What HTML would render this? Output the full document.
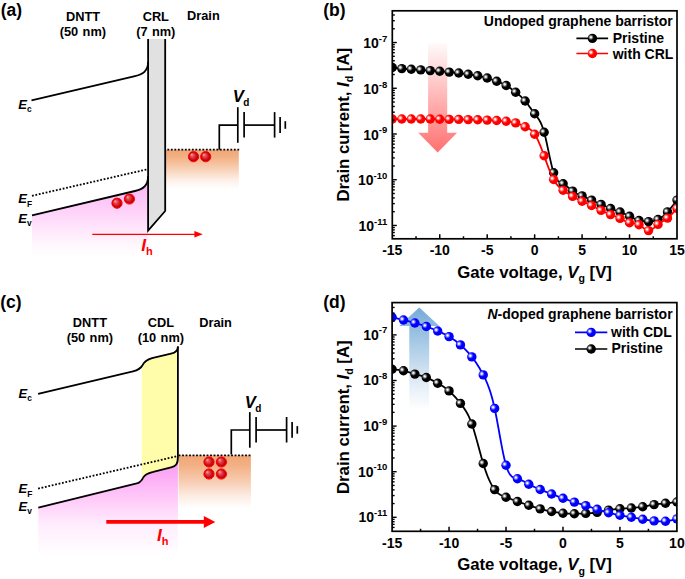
<!DOCTYPE html><html><head><meta charset="utf-8"><style>html,body{margin:0;padding:0;background:#fff;}svg{display:block;}text{font-family:"Liberation Sans", sans-serif;font-weight:bold;}</style></head><body>
<svg width="685" height="579" viewBox="0 0 685 579">
<defs>
<radialGradient id="hl" cx="0.5" cy="0.5" r="0.5"><stop offset="0" stop-color="#fff" stop-opacity="1"/><stop offset="0.25" stop-color="#fff" stop-opacity="0.9"/><stop offset="0.6" stop-color="#fff" stop-opacity="0.4"/><stop offset="1" stop-color="#fff" stop-opacity="0"/></radialGradient>
<radialGradient id="gball" cx="0.5" cy="0.5" r="0.5" fx="0.3" fy="0.28"><stop offset="0" stop-color="#f6b0b8"/><stop offset="0.3" stop-color="#e8505a"/><stop offset="0.7" stop-color="#d01018"/><stop offset="0.88" stop-color="#c00008"/><stop offset="1" stop-color="#ff0000"/></radialGradient>
<linearGradient id="gpinkA" gradientUnits="userSpaceOnUse" x1="0" y1="176" x2="0" y2="258"><stop offset="0" stop-color="rgb(251,174,245)"/><stop offset="0.476" stop-color="rgb(254,214,250)"/><stop offset="0.84" stop-color="rgb(255,248,254)"/><stop offset="1" stop-color="#ffffff"/></linearGradient>
<linearGradient id="gorgA" gradientUnits="userSpaceOnUse" x1="0" y1="150" x2="0" y2="189"><stop offset="0" stop-color="rgb(241,166,118)"/><stop offset="0.2" stop-color="rgb(243,178,135)"/><stop offset="0.5" stop-color="rgb(248,210,184)"/><stop offset="0.77" stop-color="rgb(253,240,232)"/><stop offset="1" stop-color="#ffffff"/></linearGradient>
<linearGradient id="garrR" x1="0" y1="0" x2="0" y2="1"><stop offset="0" stop-color="#ff0000" stop-opacity="0.02"/><stop offset="1" stop-color="#ff0000" stop-opacity="0.56"/></linearGradient>
<linearGradient id="garrB" x1="0" y1="0" x2="0" y2="1"><stop offset="0" stop-color="#6aa5d4"/><stop offset="1" stop-color="#6aa5d4" stop-opacity="0"/></linearGradient>
<clipPath id="clipB"><rect x="392.3" y="10.8" width="284.7" height="228.0"/></clipPath>
<clipPath id="clipD"><rect x="392.1" y="302.6" width="284.8" height="228.7"/></clipPath>
<linearGradient id="gpinkC" gradientUnits="userSpaceOnUse" x1="0" y1="458" x2="0" y2="556"><stop offset="0" stop-color="rgb(249,150,239)"/><stop offset="0.224" stop-color="rgb(253,177,246)"/><stop offset="0.48" stop-color="rgb(255,210,250)"/><stop offset="0.684" stop-color="rgb(255,237,253)"/><stop offset="1" stop-color="#ffffff"/></linearGradient><linearGradient id="gorgC" gradientUnits="userSpaceOnUse" x1="0" y1="455" x2="0" y2="508"><stop offset="0" stop-color="rgb(241,166,118)"/><stop offset="0.2" stop-color="rgb(243,176,132)"/><stop offset="0.5" stop-color="rgb(247,205,178)"/><stop offset="0.77" stop-color="rgb(252,236,226)"/><stop offset="1" stop-color="#ffffff"/></linearGradient><linearGradient id="garrBd" gradientUnits="userSpaceOnUse" x1="0" y1="307" x2="0" y2="410"><stop offset="0" stop-color="#6ea6d5" stop-opacity="0.95"/><stop offset="0.5" stop-color="#6ea6d5" stop-opacity="0.45"/><stop offset="0.78" stop-color="#6ea6d5" stop-opacity="0.17"/><stop offset="1" stop-color="#6ea6d5" stop-opacity="0"/></linearGradient></defs>
<text x="0.8" y="15.9" font-size="17.5">(a)</text>
<text x="83.0" y="20.8" font-size="12.8" text-anchor="middle">DNTT</text>
<text x="82.9" y="35.7" font-size="12.8" text-anchor="middle" word-spacing="0.8">(50 nm)</text>
<text x="155.8" y="20.8" font-size="12.8" text-anchor="middle">CRL</text>
<text x="155.8" y="35.7" font-size="12.8" text-anchor="middle" word-spacing="0.8">(7 nm)</text>
<text x="187.0" y="20.0" font-size="12.8">Drain</text>
<path d="M32,215.3 L135,191 C143,189 148.1,186 148.1,176 L148.1,260 L32,260 Z" fill="url(#gpinkA)"/>
<rect x="166" y="149.7" width="72.8" height="40" fill="url(#gorgA)"/>
<path d="M148.1,39.1 L165.2,39.1 L165.2,211 L148.1,230.5 Z" fill="#e1e1e1"/>
<path d="M148.1,39.1 L148.1,230.5 L165.2,211 L165.2,39.1" fill="none" stroke="#000" stroke-width="1.8" stroke-linejoin="miter"/>
<path d="M31.5,100.4 L134,76.4 C143,74.3 148.1,71 148.1,62" fill="none" stroke="#000" stroke-width="1.8"/>
<path d="M32,215.3 L135,191 C143,189 148.1,186 148.1,176" fill="none" stroke="#000" stroke-width="1.8"/>
<path d="M32,195.8 L146.5,169.5" fill="none" stroke="#000" stroke-width="1.8" stroke-dasharray="1.8 1.7"/>
<path d="M166,149.7 L239.8,149.7" fill="none" stroke="#000" stroke-width="1.8" stroke-dasharray="1.8 1.7" stroke-dashoffset="2.1"/>
<circle cx="117.0" cy="203.2" r="5.1" fill="url(#gball)" stroke="#ff0000" stroke-width="1"/>
<circle cx="129.4" cy="199.0" r="5.1" fill="url(#gball)" stroke="#ff0000" stroke-width="1"/>
<circle cx="193.5" cy="156.7" r="5.1" fill="url(#gball)" stroke="#ff0000" stroke-width="1"/>
<circle cx="205.7" cy="156.7" r="5.1" fill="url(#gball)" stroke="#ff0000" stroke-width="1"/>
<path d="M219.3,149.7 L219.3,125.1 L237.8,125.1" stroke="#000" stroke-width="1.7" fill="none"/>
<path d="M237.8,107.2 L237.8,142.8" stroke="#000" stroke-width="1.7" fill="none"/>
<path d="M244.1,112.1 L244.1,137.6" stroke="#000" stroke-width="1.7" fill="none"/>
<path d="M244.1,125.1 L274.6,125.1" stroke="#000" stroke-width="1.7" fill="none"/>
<path d="M274.6,112.1 L274.6,137.6" stroke="#000" stroke-width="1.7" fill="none"/>
<path d="M280.1,117.1 L280.1,132.9" stroke="#000" stroke-width="1.7" fill="none"/>
<path d="M285.3,121.2 L285.3,128.8" stroke="#000" stroke-width="1.7" fill="none"/>
<text x="232.8" y="102.4" font-size="16.6" font-style="italic">V<tspan font-size="10" font-style="normal" dx="-0.6" dy="3.7">d</tspan></text>
<text x="18.3" y="108.6" font-size="13" font-style="italic">E<tspan font-size="8.4" font-style="normal" dy="3.2">c</tspan></text>
<text x="18.3" y="203.3" font-size="13" font-style="italic">E<tspan font-size="8.4" font-style="normal" dy="3.2">F</tspan></text>
<text x="18.3" y="222.9" font-size="13" font-style="italic">E<tspan font-size="8.4" font-style="normal" dy="3.2">v</tspan></text>
<path d="M92.3,234.4 L196,234.4" stroke="#ff0000" stroke-width="1.3" fill="none"/>
<path d="M194.4,231 L202.8,234.3 L194.4,237.6 Z" fill="#ff0000"/>
<text x="141.3" y="250.7" font-size="17.3" font-style="italic" fill="#ff0000">I<tspan font-size="11" font-style="normal" dy="4.2">h</tspan></text>
<text x="0.2" y="307.6" font-size="17.5">(c)</text>
<text x="89.9" y="326.6" font-size="12.8" text-anchor="middle">DNTT</text>
<text x="89.9" y="341.5" font-size="12.8" text-anchor="middle" word-spacing="0.8">(50 nm)</text>
<text x="160.9" y="326.8" font-size="12.8" text-anchor="middle">CDL</text>
<text x="160.9" y="341.8" font-size="12.8" text-anchor="middle" word-spacing="0.8">(10 nm)</text>
<text x="199.2" y="326.8" font-size="12.8">Drain</text>
<path d="M38.3,507.6 L137,483.5 C141,482.5 142.5,479 143.6,476.9 C145,474.8 148,473 153.3,471.8 L172,467.1 C175.5,466.2 177.9,464.5 177.9,458 L177.9,556 L38.3,556 Z" fill="url(#gpinkC)"/>
<path d="M141.8,368 C142,367 142.5,365.5 143,364.5 C144.5,361.5 147,359.5 152,358 L171,353.7 C175,352.8 177.9,351 177.9,346.5 L177.9,458 C177.9,464.5 175.5,466.2 172,467.1 L153.3,471.8 C148,473 145,474.8 143.6,476.9 C143,478 142.5,479.3 141.8,480.2 Z" fill="#fffcaa"/>
<rect x="178.6" y="455.3" width="72.3" height="53" fill="url(#gorgC)"/>
<path d="M38.1,393.9 L133,371.3 C138,370 141,368 142.5,365.2 C144,362 147,359.6 152,358.1 L171,353.7 C175,352.8 177.9,351 177.9,346.5" fill="none" stroke="#000" stroke-width="1.8"/>
<path d="M177.9,346.5 L177.9,457 C177.9,464.5 175.5,466.2 172,467.1 L153.3,471.8 C148,473 145,474.8 143.6,476.9 C142.3,479.5 141,482.3 137.8,483.1 L38.3,507.6" fill="none" stroke="#000" stroke-width="1.8"/>
<path d="M38.1,488.6 L177,456.2" fill="none" stroke="#000" stroke-width="1.8" stroke-dasharray="1.8 1.7"/>
<path d="M178.6,455.3 L250.9,455.3" fill="none" stroke="#000" stroke-width="1.8" stroke-dasharray="1.8 1.7"/>
<circle cx="209.0" cy="462.0" r="5.1" fill="url(#gball)" stroke="#ff0000" stroke-width="1"/>
<circle cx="221.4" cy="462.0" r="5.1" fill="url(#gball)" stroke="#ff0000" stroke-width="1"/>
<circle cx="209.0" cy="474.0" r="5.1" fill="url(#gball)" stroke="#ff0000" stroke-width="1"/>
<circle cx="221.4" cy="474.0" r="5.1" fill="url(#gball)" stroke="#ff0000" stroke-width="1"/>
<path d="M231.3,454.6 L231.3,430.0 L249.8,430.0" stroke="#000" stroke-width="1.7" fill="none"/>
<path d="M249.8,412.1 L249.8,447.7" stroke="#000" stroke-width="1.7" fill="none"/>
<path d="M256.1,417.0 L256.1,442.5" stroke="#000" stroke-width="1.7" fill="none"/>
<path d="M256.1,430.0 L286.6,430.0" stroke="#000" stroke-width="1.7" fill="none"/>
<path d="M286.6,417.0 L286.6,442.5" stroke="#000" stroke-width="1.7" fill="none"/>
<path d="M292.1,422.0 L292.1,437.8" stroke="#000" stroke-width="1.7" fill="none"/>
<path d="M297.3,426.1 L297.3,433.7" stroke="#000" stroke-width="1.7" fill="none"/>
<text x="244.8" y="408.0" font-size="16.6" font-style="italic">V<tspan font-size="10" font-style="normal" dx="-0.6" dy="3.7">d</tspan></text>
<text x="18.5" y="397.9" font-size="13" font-style="italic">E<tspan font-size="8.4" font-style="normal" dy="3.2">c</tspan></text>
<text x="18.5" y="493.3" font-size="13" font-style="italic">E<tspan font-size="8.4" font-style="normal" dy="3.2">F</tspan></text>
<text x="18.5" y="510.9" font-size="13" font-style="italic">E<tspan font-size="8.4" font-style="normal" dy="3.2">v</tspan></text>
<path d="M106.3,521.9 L206,521.9" stroke="#ff0000" stroke-width="3.8" fill="none"/>
<path d="M203.8,515.9 L215.3,521.9 L203.8,527.9 Z" fill="#ff0000"/>
<text x="157.0" y="540.8" font-size="17.3" font-style="italic" fill="#ff0000">I<tspan font-size="11" font-style="normal" dy="4.5">h</tspan></text>
<text x="323.2" y="15.9" font-size="17.5">(b)</text>
<path d="M428.1,43.5 L447.2,43.5 L447.2,132.8 L457.1,132.8 L437.65,152.4 L418.2,132.8 L428.1,132.8 Z" fill="url(#garrR)"/>
<g clip-path="url(#clipB)">
<path d="M392.30,67.50 L393.09,67.60 L393.88,67.70 L394.67,67.80 L395.46,67.90 L396.25,67.99 L397.05,68.09 L397.84,68.18 L398.63,68.27 L399.42,68.36 L400.21,68.44 L401.00,68.52 L401.79,68.60 L402.58,68.67 L403.37,68.74 L404.16,68.81 L404.95,68.87 L405.74,68.93 L406.54,68.99 L407.33,69.05 L408.12,69.10 L408.91,69.15 L409.70,69.20 L410.49,69.25 L411.28,69.30 L412.07,69.35 L412.86,69.40 L413.65,69.44 L414.44,69.49 L415.23,69.54 L416.02,69.59 L416.82,69.64 L417.61,69.69 L418.40,69.74 L419.19,69.79 L419.98,69.84 L420.77,69.90 L421.56,69.96 L422.35,70.02 L423.14,70.08 L423.93,70.14 L424.72,70.20 L425.51,70.26 L426.31,70.32 L427.10,70.38 L427.89,70.44 L428.68,70.49 L429.47,70.55 L430.26,70.60 L431.05,70.65 L431.84,70.70 L432.63,70.75 L433.42,70.79 L434.21,70.84 L435.00,70.88 L435.80,70.93 L436.59,70.98 L437.38,71.03 L438.17,71.08 L438.96,71.14 L439.75,71.20 L440.54,71.26 L441.33,71.33 L442.12,71.40 L442.91,71.48 L443.70,71.55 L444.50,71.63 L445.29,71.71 L446.08,71.79 L446.87,71.87 L447.66,71.95 L448.45,72.02 L449.24,72.10 L450.03,72.17 L450.82,72.25 L451.61,72.32 L452.40,72.39 L453.19,72.46 L453.99,72.53 L454.78,72.60 L455.57,72.67 L456.36,72.75 L457.15,72.83 L457.94,72.91 L458.73,73.00 L459.52,73.09 L460.31,73.19 L461.10,73.29 L461.89,73.39 L462.68,73.50 L463.48,73.61 L464.27,73.72 L465.06,73.84 L465.85,73.95 L466.64,74.07 L467.43,74.18 L468.22,74.30 L469.01,74.42 L469.80,74.53 L470.59,74.65 L471.38,74.77 L472.17,74.89 L472.97,75.01 L473.76,75.13 L474.55,75.26 L475.34,75.39 L476.13,75.52 L476.92,75.66 L477.71,75.80 L478.50,75.95 L479.29,76.10 L480.08,76.25 L480.87,76.42 L481.66,76.59 L482.46,76.77 L483.25,76.95 L484.04,77.14 L484.83,77.34 L485.62,77.55 L486.41,77.77 L487.20,78.00 L487.99,78.24 L488.78,78.49 L489.57,78.74 L490.36,79.01 L491.15,79.28 L491.95,79.55 L492.74,79.84 L493.53,80.12 L494.32,80.41 L495.11,80.71 L495.90,81.00 L496.69,81.30 L497.48,81.60 L498.27,81.90 L499.06,82.20 L499.85,82.52 L500.64,82.84 L501.44,83.17 L502.23,83.51 L503.02,83.87 L503.81,84.25 L504.60,84.64 L505.39,85.06 L506.18,85.50 L506.97,85.96 L507.76,86.45 L508.55,86.96 L509.34,87.49 L510.13,88.03 L510.92,88.60 L511.72,89.17 L512.51,89.76 L513.30,90.36 L514.09,90.97 L514.88,91.58 L515.67,92.20 L516.46,92.82 L517.25,93.45 L518.04,94.09 L518.83,94.75 L519.62,95.42 L520.41,96.12 L521.21,96.84 L522.00,97.60 L522.79,98.39 L523.58,99.21 L524.37,100.08 L525.16,101.00 L525.95,101.97 L526.74,102.97 L527.53,104.02 L528.32,105.09 L529.11,106.18 L529.90,107.29 L530.70,108.40 L531.49,109.51 L532.28,110.62 L533.07,111.70 L533.86,112.77 L534.65,113.80 L535.44,114.80 L536.23,115.80 L537.02,116.81 L537.81,117.89 L538.60,119.05 L539.39,120.34 L540.19,121.77 L540.98,123.38 L541.77,125.21 L542.56,127.29 L543.35,129.64 L544.14,132.30 L544.93,135.28 L545.72,138.55 L546.51,142.02 L547.30,145.65 L548.09,149.37 L548.88,153.12 L549.68,156.83 L550.47,160.45 L551.26,163.91 L552.05,167.14 L552.84,170.09 L553.63,172.70 L554.42,174.91 L555.21,176.76 L556.00,178.28 L556.79,179.51 L557.58,180.49 L558.38,181.26 L559.17,181.87 L559.96,182.35 L560.75,182.74 L561.54,183.09 L562.33,183.43 L563.12,183.80 L563.91,184.24 L564.70,184.74 L565.49,185.30 L566.28,185.90 L567.07,186.54 L567.87,187.20 L568.66,187.87 L569.45,188.55 L570.24,189.22 L571.03,189.88 L571.82,190.51 L572.61,191.10 L573.40,191.65 L574.19,192.16 L574.98,192.63 L575.77,193.07 L576.56,193.48 L577.36,193.87 L578.15,194.23 L578.94,194.58 L579.73,194.92 L580.52,195.25 L581.31,195.57 L582.10,195.90 L582.89,196.23 L583.68,196.57 L584.47,196.91 L585.26,197.26 L586.05,197.60 L586.85,197.96 L587.64,198.31 L588.43,198.67 L589.22,199.02 L590.01,199.38 L590.80,199.74 L591.59,200.10 L592.38,200.46 L593.17,200.82 L593.96,201.18 L594.75,201.54 L595.54,201.89 L596.34,202.25 L597.13,202.61 L597.92,202.97 L598.71,203.33 L599.50,203.68 L600.29,204.04 L601.08,204.40 L601.87,204.76 L602.66,205.12 L603.45,205.47 L604.24,205.83 L605.03,206.18 L605.83,206.53 L606.62,206.87 L607.41,207.21 L608.20,207.54 L608.99,207.87 L609.78,208.19 L610.57,208.50 L611.36,208.80 L612.15,209.10 L612.94,209.39 L613.73,209.68 L614.52,209.96 L615.31,210.24 L616.11,210.53 L616.90,210.81 L617.69,211.10 L618.48,211.39 L619.27,211.69 L620.06,212.00 L620.85,212.32 L621.64,212.64 L622.43,212.98 L623.22,213.32 L624.01,213.67 L624.80,214.03 L625.60,214.39 L626.39,214.76 L627.18,215.14 L627.97,215.52 L628.76,215.91 L629.55,216.30 L630.34,216.69 L631.13,217.09 L631.92,217.49 L632.71,217.88 L633.50,218.26 L634.29,218.63 L635.09,218.99 L635.88,219.34 L636.67,219.66 L637.46,219.97 L638.25,220.25 L639.04,220.50 L639.83,220.72 L640.62,220.92 L641.41,221.09 L642.20,221.23 L642.99,221.35 L643.78,221.45 L644.58,221.52 L645.37,221.57 L646.16,221.61 L646.95,221.62 L647.74,221.62 L648.53,221.60 L649.32,221.57 L650.11,221.52 L650.90,221.45 L651.69,221.35 L652.48,221.24 L653.27,221.09 L654.07,220.92 L654.86,220.71 L655.65,220.47 L656.44,220.18 L657.23,219.86 L658.02,219.50 L658.81,219.09 L659.60,218.64 L660.39,218.14 L661.18,217.60 L661.97,217.02 L662.76,216.40 L663.56,215.74 L664.35,215.05 L665.14,214.31 L665.93,213.54 L666.72,212.74 L667.51,211.90 L668.30,211.03 L669.09,210.13 L669.88,209.20 L670.67,208.25 L671.46,207.28 L672.25,206.29 L673.05,205.28 L673.84,204.26 L674.63,203.23 L675.42,202.19 L676.21,201.15 L677.00,200.10" fill="none" stroke="#000" stroke-width="1.8" stroke-linejoin="round"/>
<circle cx="392.30" cy="67.50" r="4.70" fill="#000"/><circle cx="390.80" cy="66.35" r="3.00" fill="url(#hl)"/>
<circle cx="401.79" cy="68.60" r="4.70" fill="#000"/><circle cx="400.29" cy="67.45" r="3.00" fill="url(#hl)"/>
<circle cx="411.28" cy="69.30" r="4.70" fill="#000"/><circle cx="409.78" cy="68.15" r="3.00" fill="url(#hl)"/>
<circle cx="420.77" cy="69.90" r="4.70" fill="#000"/><circle cx="419.27" cy="68.75" r="3.00" fill="url(#hl)"/>
<circle cx="430.26" cy="70.60" r="4.70" fill="#000"/><circle cx="428.76" cy="69.45" r="3.00" fill="url(#hl)"/>
<circle cx="439.75" cy="71.20" r="4.70" fill="#000"/><circle cx="438.25" cy="70.05" r="3.00" fill="url(#hl)"/>
<circle cx="449.24" cy="72.10" r="4.70" fill="#000"/><circle cx="447.74" cy="70.95" r="3.00" fill="url(#hl)"/>
<circle cx="458.73" cy="73.00" r="4.70" fill="#000"/><circle cx="457.23" cy="71.85" r="3.00" fill="url(#hl)"/>
<circle cx="468.22" cy="74.30" r="4.70" fill="#000"/><circle cx="466.72" cy="73.15" r="3.00" fill="url(#hl)"/>
<circle cx="477.71" cy="75.80" r="4.70" fill="#000"/><circle cx="476.21" cy="74.65" r="3.00" fill="url(#hl)"/>
<circle cx="487.20" cy="78.00" r="4.70" fill="#000"/><circle cx="485.70" cy="76.85" r="3.00" fill="url(#hl)"/>
<circle cx="496.69" cy="81.30" r="4.70" fill="#000"/><circle cx="495.19" cy="80.15" r="3.00" fill="url(#hl)"/>
<circle cx="506.18" cy="85.50" r="4.70" fill="#000"/><circle cx="504.68" cy="84.35" r="3.00" fill="url(#hl)"/>
<circle cx="515.67" cy="92.20" r="4.70" fill="#000"/><circle cx="514.17" cy="91.05" r="3.00" fill="url(#hl)"/>
<circle cx="525.16" cy="101.00" r="4.70" fill="#000"/><circle cx="523.66" cy="99.85" r="3.00" fill="url(#hl)"/>
<circle cx="534.65" cy="113.80" r="4.70" fill="#000"/><circle cx="533.15" cy="112.65" r="3.00" fill="url(#hl)"/>
<circle cx="544.14" cy="132.30" r="4.70" fill="#000"/><circle cx="542.64" cy="131.15" r="3.00" fill="url(#hl)"/>
<circle cx="553.63" cy="172.70" r="4.70" fill="#000"/><circle cx="552.13" cy="171.55" r="3.00" fill="url(#hl)"/>
<circle cx="563.12" cy="183.80" r="4.70" fill="#000"/><circle cx="561.62" cy="182.65" r="3.00" fill="url(#hl)"/>
<circle cx="572.61" cy="191.10" r="4.70" fill="#000"/><circle cx="571.11" cy="189.95" r="3.00" fill="url(#hl)"/>
<circle cx="582.10" cy="195.90" r="4.70" fill="#000"/><circle cx="580.60" cy="194.75" r="3.00" fill="url(#hl)"/>
<circle cx="591.59" cy="200.10" r="4.70" fill="#000"/><circle cx="590.09" cy="198.95" r="3.00" fill="url(#hl)"/>
<circle cx="601.08" cy="204.40" r="4.70" fill="#000"/><circle cx="599.58" cy="203.25" r="3.00" fill="url(#hl)"/>
<circle cx="610.57" cy="208.50" r="4.70" fill="#000"/><circle cx="609.07" cy="207.35" r="3.00" fill="url(#hl)"/>
<circle cx="620.06" cy="212.00" r="4.70" fill="#000"/><circle cx="618.56" cy="210.85" r="3.00" fill="url(#hl)"/>
<circle cx="629.55" cy="216.30" r="4.70" fill="#000"/><circle cx="628.05" cy="215.15" r="3.00" fill="url(#hl)"/>
<circle cx="639.04" cy="220.50" r="4.70" fill="#000"/><circle cx="637.54" cy="219.35" r="3.00" fill="url(#hl)"/>
<circle cx="648.53" cy="221.60" r="4.70" fill="#000"/><circle cx="647.03" cy="220.45" r="3.00" fill="url(#hl)"/>
<circle cx="658.02" cy="219.50" r="4.70" fill="#000"/><circle cx="656.52" cy="218.35" r="3.00" fill="url(#hl)"/>
<circle cx="667.51" cy="211.90" r="4.70" fill="#000"/><circle cx="666.01" cy="210.75" r="3.00" fill="url(#hl)"/>
<circle cx="677.00" cy="200.10" r="4.70" fill="#000"/><circle cx="675.50" cy="198.95" r="3.00" fill="url(#hl)"/>
<path d="M392.30,119.00 L393.09,119.00 L393.88,119.00 L394.67,119.00 L395.46,119.00 L396.25,119.00 L397.05,119.00 L397.84,119.00 L398.63,119.00 L399.42,119.00 L400.21,119.00 L401.00,119.00 L401.79,119.00 L402.58,119.00 L403.37,119.00 L404.16,119.00 L404.95,119.00 L405.74,119.00 L406.54,119.00 L407.33,119.00 L408.12,119.00 L408.91,119.00 L409.70,119.00 L410.49,119.00 L411.28,119.00 L412.07,119.00 L412.86,119.00 L413.65,119.00 L414.44,119.00 L415.23,119.00 L416.02,119.00 L416.82,119.00 L417.61,119.00 L418.40,119.00 L419.19,119.00 L419.98,119.00 L420.77,119.00 L421.56,119.00 L422.35,119.00 L423.14,118.99 L423.93,118.99 L424.72,118.99 L425.51,118.99 L426.31,118.98 L427.10,118.98 L427.89,118.99 L428.68,118.99 L429.47,118.99 L430.26,119.00 L431.05,119.01 L431.84,119.02 L432.63,119.03 L433.42,119.05 L434.21,119.06 L435.00,119.08 L435.80,119.10 L436.59,119.12 L437.38,119.14 L438.17,119.16 L438.96,119.18 L439.75,119.20 L440.54,119.22 L441.33,119.24 L442.12,119.26 L442.91,119.29 L443.70,119.31 L444.50,119.32 L445.29,119.34 L446.08,119.36 L446.87,119.37 L447.66,119.38 L448.45,119.39 L449.24,119.40 L450.03,119.40 L450.82,119.41 L451.61,119.41 L452.40,119.40 L453.19,119.40 L453.99,119.40 L454.78,119.40 L455.57,119.39 L456.36,119.39 L457.15,119.39 L457.94,119.39 L458.73,119.40 L459.52,119.41 L460.31,119.42 L461.10,119.43 L461.89,119.45 L462.68,119.46 L463.48,119.48 L464.27,119.50 L465.06,119.52 L465.85,119.54 L466.64,119.56 L467.43,119.58 L468.22,119.60 L469.01,119.62 L469.80,119.64 L470.59,119.65 L471.38,119.67 L472.17,119.68 L472.97,119.70 L473.76,119.71 L474.55,119.73 L475.34,119.75 L476.13,119.76 L476.92,119.78 L477.71,119.80 L478.50,119.82 L479.29,119.84 L480.08,119.86 L480.87,119.89 L481.66,119.91 L482.46,119.94 L483.25,119.96 L484.04,119.99 L484.83,120.02 L485.62,120.04 L486.41,120.07 L487.20,120.10 L487.99,120.13 L488.78,120.16 L489.57,120.19 L490.36,120.22 L491.15,120.25 L491.95,120.28 L492.74,120.31 L493.53,120.35 L494.32,120.38 L495.11,120.42 L495.90,120.46 L496.69,120.50 L497.48,120.54 L498.27,120.59 L499.06,120.64 L499.85,120.69 L500.64,120.74 L501.44,120.79 L502.23,120.85 L503.02,120.92 L503.81,120.98 L504.60,121.05 L505.39,121.12 L506.18,121.20 L506.97,121.28 L507.76,121.37 L508.55,121.46 L509.34,121.56 L510.13,121.68 L510.92,121.80 L511.72,121.94 L512.51,122.10 L513.30,122.27 L514.09,122.46 L514.88,122.67 L515.67,122.90 L516.46,123.15 L517.25,123.43 L518.04,123.72 L518.83,124.03 L519.62,124.36 L520.41,124.69 L521.21,125.03 L522.00,125.38 L522.79,125.74 L523.58,126.09 L524.37,126.45 L525.16,126.80 L525.95,127.15 L526.74,127.51 L527.53,127.88 L528.32,128.29 L529.11,128.74 L529.90,129.25 L530.70,129.83 L531.49,130.49 L532.28,131.24 L533.07,132.11 L533.86,133.09 L534.65,134.20 L535.44,135.45 L536.23,136.84 L537.02,138.35 L537.81,139.98 L538.60,141.70 L539.39,143.52 L540.19,145.42 L540.98,147.40 L541.77,149.43 L542.56,151.52 L543.35,153.64 L544.14,155.80 L544.93,157.98 L545.72,160.16 L546.51,162.33 L547.30,164.49 L548.09,166.62 L548.88,168.70 L549.68,170.72 L550.47,172.67 L551.26,174.54 L552.05,176.31 L552.84,177.96 L553.63,179.50 L554.42,180.90 L555.21,182.18 L556.00,183.34 L556.79,184.40 L557.58,185.36 L558.38,186.24 L559.17,187.04 L559.96,187.78 L560.75,188.47 L561.54,189.11 L562.33,189.71 L563.12,190.30 L563.91,190.87 L564.70,191.43 L565.49,191.98 L566.28,192.51 L567.07,193.03 L567.87,193.55 L568.66,194.05 L569.45,194.54 L570.24,195.02 L571.03,195.49 L571.82,195.95 L572.61,196.40 L573.40,196.84 L574.19,197.28 L574.98,197.70 L575.77,198.12 L576.56,198.53 L577.36,198.93 L578.15,199.32 L578.94,199.71 L579.73,200.09 L580.52,200.47 L581.31,200.84 L582.10,201.20 L582.89,201.56 L583.68,201.91 L584.47,202.26 L585.26,202.61 L586.05,202.96 L586.85,203.31 L587.64,203.66 L588.43,204.02 L589.22,204.38 L590.01,204.75 L590.80,205.12 L591.59,205.50 L592.38,205.89 L593.17,206.29 L593.96,206.69 L594.75,207.10 L595.54,207.52 L596.34,207.93 L597.13,208.35 L597.92,208.77 L598.71,209.18 L599.50,209.59 L600.29,210.00 L601.08,210.40 L601.87,210.79 L602.66,211.18 L603.45,211.55 L604.24,211.92 L605.03,212.28 L605.83,212.64 L606.62,212.98 L607.41,213.32 L608.20,213.65 L608.99,213.97 L609.78,214.29 L610.57,214.60 L611.36,214.90 L612.15,215.20 L612.94,215.49 L613.73,215.79 L614.52,216.08 L615.31,216.38 L616.11,216.69 L616.90,217.01 L617.69,217.33 L618.48,217.67 L619.27,218.03 L620.06,218.40 L620.85,218.79 L621.64,219.20 L622.43,219.61 L623.22,220.03 L624.01,220.44 L624.80,220.84 L625.60,221.23 L626.39,221.59 L627.18,221.93 L627.97,222.23 L628.76,222.49 L629.55,222.70 L630.34,222.86 L631.13,222.99 L631.92,223.08 L632.71,223.16 L633.50,223.24 L634.29,223.32 L635.09,223.43 L635.88,223.57 L636.67,223.75 L637.46,223.99 L638.25,224.31 L639.04,224.70 L639.83,225.18 L640.62,225.74 L641.41,226.35 L642.20,226.98 L642.99,227.63 L643.78,228.26 L644.58,228.86 L645.37,229.41 L646.16,229.87 L646.95,230.24 L647.74,230.49 L648.53,230.60 L649.32,230.55 L650.11,230.36 L650.90,230.04 L651.69,229.61 L652.48,229.09 L653.27,228.50 L654.07,227.85 L654.86,227.16 L655.65,226.46 L656.44,225.75 L657.23,225.06 L658.02,224.40 L658.81,223.79 L659.60,223.22 L660.39,222.69 L661.18,222.18 L661.97,221.70 L662.76,221.22 L663.56,220.74 L664.35,220.26 L665.14,219.76 L665.93,219.24 L666.72,218.69 L667.51,218.10 L668.30,217.46 L669.09,216.78 L669.88,216.06 L670.67,215.30 L671.46,214.50 L672.25,213.69 L673.05,212.84 L673.84,211.98 L674.63,211.10 L675.42,210.20 L676.21,209.30 L677.00,208.40" fill="none" stroke="#ff0000" stroke-width="1.8" stroke-linejoin="round"/>
<circle cx="392.30" cy="119.00" r="4.70" fill="#ff0000"/><circle cx="390.80" cy="117.85" r="3.00" fill="url(#hl)"/>
<circle cx="401.79" cy="119.00" r="4.70" fill="#ff0000"/><circle cx="400.29" cy="117.85" r="3.00" fill="url(#hl)"/>
<circle cx="411.28" cy="119.00" r="4.70" fill="#ff0000"/><circle cx="409.78" cy="117.85" r="3.00" fill="url(#hl)"/>
<circle cx="420.77" cy="119.00" r="4.70" fill="#ff0000"/><circle cx="419.27" cy="117.85" r="3.00" fill="url(#hl)"/>
<circle cx="430.26" cy="119.00" r="4.70" fill="#ff0000"/><circle cx="428.76" cy="117.85" r="3.00" fill="url(#hl)"/>
<circle cx="439.75" cy="119.20" r="4.70" fill="#ff0000"/><circle cx="438.25" cy="118.05" r="3.00" fill="url(#hl)"/>
<circle cx="449.24" cy="119.40" r="4.70" fill="#ff0000"/><circle cx="447.74" cy="118.25" r="3.00" fill="url(#hl)"/>
<circle cx="458.73" cy="119.40" r="4.70" fill="#ff0000"/><circle cx="457.23" cy="118.25" r="3.00" fill="url(#hl)"/>
<circle cx="468.22" cy="119.60" r="4.70" fill="#ff0000"/><circle cx="466.72" cy="118.45" r="3.00" fill="url(#hl)"/>
<circle cx="477.71" cy="119.80" r="4.70" fill="#ff0000"/><circle cx="476.21" cy="118.65" r="3.00" fill="url(#hl)"/>
<circle cx="487.20" cy="120.10" r="4.70" fill="#ff0000"/><circle cx="485.70" cy="118.95" r="3.00" fill="url(#hl)"/>
<circle cx="496.69" cy="120.50" r="4.70" fill="#ff0000"/><circle cx="495.19" cy="119.35" r="3.00" fill="url(#hl)"/>
<circle cx="506.18" cy="121.20" r="4.70" fill="#ff0000"/><circle cx="504.68" cy="120.05" r="3.00" fill="url(#hl)"/>
<circle cx="515.67" cy="122.90" r="4.70" fill="#ff0000"/><circle cx="514.17" cy="121.75" r="3.00" fill="url(#hl)"/>
<circle cx="525.16" cy="126.80" r="4.70" fill="#ff0000"/><circle cx="523.66" cy="125.65" r="3.00" fill="url(#hl)"/>
<circle cx="534.65" cy="134.20" r="4.70" fill="#ff0000"/><circle cx="533.15" cy="133.05" r="3.00" fill="url(#hl)"/>
<circle cx="544.14" cy="155.80" r="4.70" fill="#ff0000"/><circle cx="542.64" cy="154.65" r="3.00" fill="url(#hl)"/>
<circle cx="553.63" cy="179.50" r="4.70" fill="#ff0000"/><circle cx="552.13" cy="178.35" r="3.00" fill="url(#hl)"/>
<circle cx="563.12" cy="190.30" r="4.70" fill="#ff0000"/><circle cx="561.62" cy="189.15" r="3.00" fill="url(#hl)"/>
<circle cx="572.61" cy="196.40" r="4.70" fill="#ff0000"/><circle cx="571.11" cy="195.25" r="3.00" fill="url(#hl)"/>
<circle cx="582.10" cy="201.20" r="4.70" fill="#ff0000"/><circle cx="580.60" cy="200.05" r="3.00" fill="url(#hl)"/>
<circle cx="591.59" cy="205.50" r="4.70" fill="#ff0000"/><circle cx="590.09" cy="204.35" r="3.00" fill="url(#hl)"/>
<circle cx="601.08" cy="210.40" r="4.70" fill="#ff0000"/><circle cx="599.58" cy="209.25" r="3.00" fill="url(#hl)"/>
<circle cx="610.57" cy="214.60" r="4.70" fill="#ff0000"/><circle cx="609.07" cy="213.45" r="3.00" fill="url(#hl)"/>
<circle cx="620.06" cy="218.40" r="4.70" fill="#ff0000"/><circle cx="618.56" cy="217.25" r="3.00" fill="url(#hl)"/>
<circle cx="629.55" cy="222.70" r="4.70" fill="#ff0000"/><circle cx="628.05" cy="221.55" r="3.00" fill="url(#hl)"/>
<circle cx="639.04" cy="224.70" r="4.70" fill="#ff0000"/><circle cx="637.54" cy="223.55" r="3.00" fill="url(#hl)"/>
<circle cx="648.53" cy="230.60" r="4.70" fill="#ff0000"/><circle cx="647.03" cy="229.45" r="3.00" fill="url(#hl)"/>
<circle cx="658.02" cy="224.40" r="4.70" fill="#ff0000"/><circle cx="656.52" cy="223.25" r="3.00" fill="url(#hl)"/>
<circle cx="667.51" cy="218.10" r="4.70" fill="#ff0000"/><circle cx="666.01" cy="216.95" r="3.00" fill="url(#hl)"/>
<circle cx="677.00" cy="208.40" r="4.70" fill="#ff0000"/><circle cx="675.50" cy="207.25" r="3.00" fill="url(#hl)"/>
</g>
<rect x="392.30" y="10.80" width="284.70" height="228.00" fill="none" stroke="#000" stroke-width="1.7"/>
<text x="392.30" y="255.3" font-size="14" text-anchor="middle">-15</text>
<path d="M416.03,238.80 L416.03,236.30" stroke="#000" stroke-width="1.5"/>
<path d="M439.75,238.80 L439.75,234.30" stroke="#000" stroke-width="1.5"/>
<text x="439.75" y="255.3" font-size="14" text-anchor="middle">-10</text>
<path d="M463.48,238.80 L463.48,236.30" stroke="#000" stroke-width="1.5"/>
<path d="M487.20,238.80 L487.20,234.30" stroke="#000" stroke-width="1.5"/>
<text x="487.20" y="255.3" font-size="14" text-anchor="middle">-5</text>
<path d="M510.93,238.80 L510.93,236.30" stroke="#000" stroke-width="1.5"/>
<path d="M534.65,238.80 L534.65,234.30" stroke="#000" stroke-width="1.5"/>
<text x="534.65" y="255.3" font-size="14" text-anchor="middle">0</text>
<path d="M558.38,238.80 L558.38,236.30" stroke="#000" stroke-width="1.5"/>
<path d="M582.10,238.80 L582.10,234.30" stroke="#000" stroke-width="1.5"/>
<text x="582.10" y="255.3" font-size="14" text-anchor="middle">5</text>
<path d="M605.83,238.80 L605.83,236.30" stroke="#000" stroke-width="1.5"/>
<path d="M629.55,238.80 L629.55,234.30" stroke="#000" stroke-width="1.5"/>
<text x="629.55" y="255.3" font-size="14" text-anchor="middle">10</text>
<path d="M653.28,238.80 L653.28,236.30" stroke="#000" stroke-width="1.5"/>
<text x="677.00" y="255.3" font-size="14" text-anchor="middle">15</text>
<path d="M392.30,235.61 L394.80,235.61" stroke="#000" stroke-width="1.4"/>
<path d="M392.30,232.54 L394.80,232.54" stroke="#000" stroke-width="1.4"/>
<path d="M392.30,229.89 L394.80,229.89" stroke="#000" stroke-width="1.4"/>
<path d="M392.30,227.55 L394.80,227.55" stroke="#000" stroke-width="1.4"/>
<path d="M392.30,225.46 L396.80,225.46" stroke="#000" stroke-width="1.4"/>
<text x="387.3" y="231.16" font-size="14" text-anchor="end">10<tspan font-size="9.5" dy="-6.3">-11</tspan></text>
<path d="M392.30,211.69 L394.80,211.69" stroke="#000" stroke-width="1.4"/>
<path d="M392.30,203.64 L394.80,203.64" stroke="#000" stroke-width="1.4"/>
<path d="M392.30,197.93 L394.80,197.93" stroke="#000" stroke-width="1.4"/>
<path d="M392.30,193.50 L394.80,193.50" stroke="#000" stroke-width="1.4"/>
<path d="M392.30,189.88 L394.80,189.88" stroke="#000" stroke-width="1.4"/>
<path d="M392.30,186.81 L394.80,186.81" stroke="#000" stroke-width="1.4"/>
<path d="M392.30,184.16 L394.80,184.16" stroke="#000" stroke-width="1.4"/>
<path d="M392.30,181.82 L394.80,181.82" stroke="#000" stroke-width="1.4"/>
<path d="M392.30,179.73 L396.80,179.73" stroke="#000" stroke-width="1.4"/>
<text x="387.3" y="185.43" font-size="14" text-anchor="end">10<tspan font-size="9.5" dy="-6.3">-10</tspan></text>
<path d="M392.30,165.96 L394.80,165.96" stroke="#000" stroke-width="1.4"/>
<path d="M392.30,157.91 L394.80,157.91" stroke="#000" stroke-width="1.4"/>
<path d="M392.30,152.20 L394.80,152.20" stroke="#000" stroke-width="1.4"/>
<path d="M392.30,147.77 L394.80,147.77" stroke="#000" stroke-width="1.4"/>
<path d="M392.30,144.15 L394.80,144.15" stroke="#000" stroke-width="1.4"/>
<path d="M392.30,141.08 L394.80,141.08" stroke="#000" stroke-width="1.4"/>
<path d="M392.30,138.43 L394.80,138.43" stroke="#000" stroke-width="1.4"/>
<path d="M392.30,136.09 L394.80,136.09" stroke="#000" stroke-width="1.4"/>
<path d="M392.30,134.00 L396.80,134.00" stroke="#000" stroke-width="1.4"/>
<text x="387.3" y="139.70" font-size="14" text-anchor="end">10<tspan font-size="9.5" dy="-6.3">-9</tspan></text>
<path d="M392.30,120.23 L394.80,120.23" stroke="#000" stroke-width="1.4"/>
<path d="M392.30,112.18 L394.80,112.18" stroke="#000" stroke-width="1.4"/>
<path d="M392.30,106.47 L394.80,106.47" stroke="#000" stroke-width="1.4"/>
<path d="M392.30,102.04 L394.80,102.04" stroke="#000" stroke-width="1.4"/>
<path d="M392.30,98.42 L394.80,98.42" stroke="#000" stroke-width="1.4"/>
<path d="M392.30,95.35 L394.80,95.35" stroke="#000" stroke-width="1.4"/>
<path d="M392.30,92.70 L394.80,92.70" stroke="#000" stroke-width="1.4"/>
<path d="M392.30,90.36 L394.80,90.36" stroke="#000" stroke-width="1.4"/>
<path d="M392.30,88.27 L396.80,88.27" stroke="#000" stroke-width="1.4"/>
<text x="387.3" y="93.97" font-size="14" text-anchor="end">10<tspan font-size="9.5" dy="-6.3">-8</tspan></text>
<path d="M392.30,74.50 L394.80,74.50" stroke="#000" stroke-width="1.4"/>
<path d="M392.30,66.45 L394.80,66.45" stroke="#000" stroke-width="1.4"/>
<path d="M392.30,60.74 L394.80,60.74" stroke="#000" stroke-width="1.4"/>
<path d="M392.30,56.31 L394.80,56.31" stroke="#000" stroke-width="1.4"/>
<path d="M392.30,52.69 L394.80,52.69" stroke="#000" stroke-width="1.4"/>
<path d="M392.30,49.62 L394.80,49.62" stroke="#000" stroke-width="1.4"/>
<path d="M392.30,46.97 L394.80,46.97" stroke="#000" stroke-width="1.4"/>
<path d="M392.30,44.63 L394.80,44.63" stroke="#000" stroke-width="1.4"/>
<path d="M392.30,42.54 L396.80,42.54" stroke="#000" stroke-width="1.4"/>
<text x="387.3" y="48.24" font-size="14" text-anchor="end">10<tspan font-size="9.5" dy="-6.3">-7</tspan></text>
<path d="M392.30,28.77 L394.80,28.77" stroke="#000" stroke-width="1.4"/>
<path d="M392.30,20.72 L394.80,20.72" stroke="#000" stroke-width="1.4"/>
<path d="M392.30,15.01 L394.80,15.01" stroke="#000" stroke-width="1.4"/>
<text x="534.6" y="277.8" font-size="16.8" text-anchor="middle">Gate voltage, <tspan font-style="italic">V</tspan><tspan font-size="10.5" dy="4.4">g</tspan><tspan dy="-4.4"> [V]</tspan></text>
<text transform="translate(348.6,124.7) rotate(-90)" x="0" y="0" font-size="16.8" text-anchor="middle">Drain current, <tspan font-style="italic">I</tspan><tspan font-size="10.5" dy="4.4">d</tspan><tspan dy="-4.4"> [A]</tspan></text>
<text x="672.8" y="26.4" font-size="14" text-anchor="end">Undoped graphene barristor</text>
<path d="M576.4,38.4 L608.1,38.4" stroke="#000" stroke-width="1.6"/><circle cx="592.40" cy="38.40" r="4.70" fill="#000"/><circle cx="590.90" cy="37.25" r="3.00" fill="url(#hl)"/><text x="612.7" y="43.0" font-size="14">Pristine</text><path d="M576.4,53.5 L608.1,53.5" stroke="#ff0000" stroke-width="1.6"/><circle cx="592.40" cy="53.50" r="4.70" fill="#ff0000"/><circle cx="590.90" cy="52.35" r="3.00" fill="url(#hl)"/><text x="612.7" y="58.6" font-size="14">with CRL</text>
<text x="323.2" y="308.4" font-size="17.5">(d)</text>
<path d="M409.3,410 L429.2,410 L429.2,325.9 L439.3,325.9 L419.25,307.5 L399.2,325.9 L409.3,325.9 Z" fill="url(#garrBd)"/>
<g clip-path="url(#clipD)">
<path d="M392.10,369.30 L393.05,369.37 L394.00,369.44 L394.95,369.52 L395.90,369.60 L396.85,369.69 L397.80,369.78 L398.75,369.90 L399.69,370.02 L400.64,370.16 L401.59,370.32 L402.54,370.50 L403.49,370.70 L404.44,370.92 L405.39,371.17 L406.34,371.43 L407.29,371.71 L408.24,372.00 L409.19,372.30 L410.14,372.60 L411.09,372.91 L412.04,373.21 L412.99,373.52 L413.93,373.81 L414.88,374.10 L415.83,374.38 L416.78,374.64 L417.73,374.90 L418.68,375.16 L419.63,375.41 L420.58,375.68 L421.53,375.94 L422.48,376.22 L423.43,376.51 L424.38,376.82 L425.33,377.15 L426.28,377.50 L427.23,377.88 L428.17,378.28 L429.12,378.70 L430.07,379.15 L431.02,379.61 L431.97,380.09 L432.92,380.58 L433.87,381.09 L434.82,381.60 L435.77,382.13 L436.72,382.66 L437.67,383.20 L438.62,383.74 L439.57,384.29 L440.52,384.85 L441.47,385.42 L442.41,386.01 L443.36,386.61 L444.31,387.25 L445.26,387.91 L446.21,388.60 L447.16,389.33 L448.11,390.09 L449.06,390.90 L450.01,391.75 L450.96,392.65 L451.91,393.58 L452.86,394.56 L453.81,395.57 L454.76,396.61 L455.71,397.68 L456.65,398.78 L457.60,399.90 L458.55,401.05 L459.50,402.22 L460.45,403.40 L461.40,404.60 L462.35,405.84 L463.30,407.12 L464.25,408.48 L465.20,409.92 L466.15,411.47 L467.10,413.14 L468.05,414.96 L469.00,416.93 L469.95,419.09 L470.89,421.44 L471.84,424.00 L472.79,426.79 L473.74,429.78 L474.69,432.94 L475.64,436.23 L476.59,439.62 L477.54,443.09 L478.49,446.59 L479.44,450.09 L480.39,453.57 L481.34,456.98 L482.29,460.31 L483.24,463.50 L484.19,466.54 L485.13,469.42 L486.08,472.15 L487.03,474.71 L487.98,477.12 L488.93,479.37 L489.88,481.47 L490.83,483.40 L491.78,485.19 L492.73,486.81 L493.68,488.28 L494.63,489.60 L495.58,490.76 L496.53,491.79 L497.48,492.68 L498.43,493.46 L499.37,494.14 L500.32,494.74 L501.27,495.25 L502.22,495.71 L503.17,496.12 L504.12,496.50 L505.07,496.85 L506.02,497.20 L506.97,497.55 L507.92,497.91 L508.87,498.27 L509.82,498.63 L510.77,499.00 L511.72,499.36 L512.67,499.73 L513.61,500.09 L514.56,500.45 L515.51,500.80 L516.46,501.16 L517.41,501.50 L518.36,501.84 L519.31,502.17 L520.26,502.49 L521.21,502.82 L522.16,503.13 L523.11,503.45 L524.06,503.76 L525.01,504.07 L525.96,504.37 L526.91,504.68 L527.85,504.99 L528.80,505.30 L529.75,505.61 L530.70,505.92 L531.65,506.24 L532.60,506.55 L533.55,506.86 L534.50,507.17 L535.45,507.47 L536.40,507.77 L537.35,508.07 L538.30,508.35 L539.25,508.63 L540.20,508.90 L541.15,509.16 L542.09,509.41 L543.04,509.65 L543.99,509.89 L544.94,510.11 L545.89,510.33 L546.84,510.54 L547.79,510.74 L548.74,510.94 L549.69,511.13 L550.64,511.32 L551.59,511.50 L552.54,511.68 L553.49,511.85 L554.44,512.02 L555.39,512.18 L556.33,512.33 L557.28,512.48 L558.23,512.62 L559.18,512.75 L560.13,512.88 L561.08,513.00 L562.03,513.10 L562.98,513.20 L563.93,513.29 L564.88,513.37 L565.83,513.43 L566.78,513.49 L567.73,513.55 L568.68,513.59 L569.63,513.62 L570.57,513.65 L571.52,513.67 L572.47,513.69 L573.42,513.70 L574.37,513.70 L575.32,513.70 L576.27,513.69 L577.22,513.68 L578.17,513.66 L579.12,513.64 L580.07,513.61 L581.02,513.59 L581.97,513.55 L582.92,513.52 L583.87,513.48 L584.81,513.44 L585.76,513.40 L586.71,513.36 L587.66,513.31 L588.61,513.26 L589.56,513.20 L590.51,513.14 L591.46,513.07 L592.41,512.98 L593.36,512.89 L594.31,512.79 L595.26,512.67 L596.21,512.55 L597.16,512.40 L598.11,512.24 L599.05,512.06 L600.00,511.88 L600.95,511.68 L601.90,511.48 L602.85,511.27 L603.80,511.07 L604.75,510.86 L605.70,510.66 L606.65,510.46 L607.60,510.28 L608.55,510.10 L609.50,509.94 L610.45,509.79 L611.40,509.65 L612.35,509.52 L613.29,509.41 L614.24,509.30 L615.19,509.20 L616.14,509.11 L617.09,509.03 L618.04,508.95 L618.99,508.87 L619.94,508.80 L620.89,508.73 L621.84,508.66 L622.79,508.60 L623.74,508.53 L624.69,508.47 L625.64,508.41 L626.59,508.34 L627.53,508.28 L628.48,508.21 L629.43,508.14 L630.38,508.07 L631.33,508.00 L632.28,507.92 L633.23,507.84 L634.18,507.76 L635.13,507.67 L636.08,507.57 L637.03,507.47 L637.98,507.36 L638.93,507.25 L639.88,507.13 L640.83,506.99 L641.77,506.85 L642.72,506.70 L643.67,506.54 L644.62,506.37 L645.57,506.19 L646.52,506.01 L647.47,505.82 L648.42,505.64 L649.37,505.45 L650.32,505.27 L651.27,505.09 L652.22,504.92 L653.17,504.75 L654.12,504.60 L655.07,504.46 L656.01,504.32 L656.96,504.20 L657.91,504.08 L658.86,503.97 L659.81,503.87 L660.76,503.77 L661.71,503.68 L662.66,503.58 L663.61,503.49 L664.56,503.40 L665.51,503.30 L666.46,503.20 L667.41,503.10 L668.36,503.00 L669.31,502.89 L670.25,502.79 L671.20,502.68 L672.15,502.57 L673.10,502.45 L674.05,502.34 L675.00,502.23 L675.95,502.11 L676.90,502.00" fill="none" stroke="#000" stroke-width="1.8" stroke-linejoin="round"/>
<circle cx="392.10" cy="369.30" r="4.70" fill="#000"/><circle cx="390.60" cy="368.15" r="3.00" fill="url(#hl)"/>
<circle cx="403.49" cy="370.70" r="4.70" fill="#000"/><circle cx="401.99" cy="369.55" r="3.00" fill="url(#hl)"/>
<circle cx="414.88" cy="374.10" r="4.70" fill="#000"/><circle cx="413.38" cy="372.95" r="3.00" fill="url(#hl)"/>
<circle cx="426.28" cy="377.50" r="4.70" fill="#000"/><circle cx="424.78" cy="376.35" r="3.00" fill="url(#hl)"/>
<circle cx="437.67" cy="383.20" r="4.70" fill="#000"/><circle cx="436.17" cy="382.05" r="3.00" fill="url(#hl)"/>
<circle cx="449.06" cy="390.90" r="4.70" fill="#000"/><circle cx="447.56" cy="389.75" r="3.00" fill="url(#hl)"/>
<circle cx="460.45" cy="403.40" r="4.70" fill="#000"/><circle cx="458.95" cy="402.25" r="3.00" fill="url(#hl)"/>
<circle cx="471.84" cy="424.00" r="4.70" fill="#000"/><circle cx="470.34" cy="422.85" r="3.00" fill="url(#hl)"/>
<circle cx="483.24" cy="463.50" r="4.70" fill="#000"/><circle cx="481.74" cy="462.35" r="3.00" fill="url(#hl)"/>
<circle cx="494.63" cy="489.60" r="4.70" fill="#000"/><circle cx="493.13" cy="488.45" r="3.00" fill="url(#hl)"/>
<circle cx="506.02" cy="497.20" r="4.70" fill="#000"/><circle cx="504.52" cy="496.05" r="3.00" fill="url(#hl)"/>
<circle cx="517.41" cy="501.50" r="4.70" fill="#000"/><circle cx="515.91" cy="500.35" r="3.00" fill="url(#hl)"/>
<circle cx="528.80" cy="505.30" r="4.70" fill="#000"/><circle cx="527.30" cy="504.15" r="3.00" fill="url(#hl)"/>
<circle cx="540.20" cy="508.90" r="4.70" fill="#000"/><circle cx="538.70" cy="507.75" r="3.00" fill="url(#hl)"/>
<circle cx="551.59" cy="511.50" r="4.70" fill="#000"/><circle cx="550.09" cy="510.35" r="3.00" fill="url(#hl)"/>
<circle cx="562.98" cy="513.20" r="4.70" fill="#000"/><circle cx="561.48" cy="512.05" r="3.00" fill="url(#hl)"/>
<circle cx="574.37" cy="513.70" r="4.70" fill="#000"/><circle cx="572.87" cy="512.55" r="3.00" fill="url(#hl)"/>
<circle cx="585.76" cy="513.40" r="4.70" fill="#000"/><circle cx="584.26" cy="512.25" r="3.00" fill="url(#hl)"/>
<circle cx="597.16" cy="512.40" r="4.70" fill="#000"/><circle cx="595.66" cy="511.25" r="3.00" fill="url(#hl)"/>
<circle cx="608.55" cy="510.10" r="4.70" fill="#000"/><circle cx="607.05" cy="508.95" r="3.00" fill="url(#hl)"/>
<circle cx="619.94" cy="508.80" r="4.70" fill="#000"/><circle cx="618.44" cy="507.65" r="3.00" fill="url(#hl)"/>
<circle cx="631.33" cy="508.00" r="4.70" fill="#000"/><circle cx="629.83" cy="506.85" r="3.00" fill="url(#hl)"/>
<circle cx="642.72" cy="506.70" r="4.70" fill="#000"/><circle cx="641.22" cy="505.55" r="3.00" fill="url(#hl)"/>
<circle cx="654.12" cy="504.60" r="4.70" fill="#000"/><circle cx="652.62" cy="503.45" r="3.00" fill="url(#hl)"/>
<circle cx="665.51" cy="503.30" r="4.70" fill="#000"/><circle cx="664.01" cy="502.15" r="3.00" fill="url(#hl)"/>
<circle cx="676.90" cy="502.00" r="4.70" fill="#000"/><circle cx="675.40" cy="500.85" r="3.00" fill="url(#hl)"/>
<path d="M392.10,317.30 L393.05,317.52 L394.00,317.74 L394.95,317.96 L395.90,318.18 L396.85,318.40 L397.80,318.63 L398.75,318.85 L399.69,319.08 L400.64,319.31 L401.59,319.53 L402.54,319.77 L403.49,320.00 L404.44,320.24 L405.39,320.48 L406.34,320.72 L407.29,320.96 L408.24,321.21 L409.19,321.46 L410.14,321.71 L411.09,321.96 L412.04,322.22 L412.99,322.48 L413.93,322.74 L414.88,323.00 L415.83,323.27 L416.78,323.53 L417.73,323.81 L418.68,324.08 L419.63,324.36 L420.58,324.65 L421.53,324.94 L422.48,325.24 L423.43,325.54 L424.38,325.85 L425.33,326.17 L426.28,326.50 L427.23,326.84 L428.17,327.18 L429.12,327.53 L430.07,327.89 L431.02,328.26 L431.97,328.64 L432.92,329.02 L433.87,329.40 L434.82,329.79 L435.77,330.19 L436.72,330.59 L437.67,331.00 L438.62,331.41 L439.57,331.83 L440.52,332.25 L441.47,332.68 L442.41,333.12 L443.36,333.57 L444.31,334.04 L445.26,334.51 L446.21,335.01 L447.16,335.52 L448.11,336.05 L449.06,336.60 L450.01,337.17 L450.96,337.76 L451.91,338.38 L452.86,339.01 L453.81,339.67 L454.76,340.35 L455.71,341.05 L456.65,341.78 L457.60,342.53 L458.55,343.29 L459.50,344.09 L460.45,344.90 L461.40,345.74 L462.35,346.60 L463.30,347.49 L464.25,348.40 L465.20,349.34 L466.15,350.32 L467.10,351.32 L468.05,352.37 L469.00,353.44 L469.95,354.55 L470.89,355.71 L471.84,356.90 L472.79,358.13 L473.74,359.41 L474.69,360.74 L475.64,362.11 L476.59,363.52 L477.54,364.99 L478.49,366.51 L479.44,368.08 L480.39,369.70 L481.34,371.38 L482.29,373.11 L483.24,374.90 L484.19,376.75 L485.13,378.69 L486.08,380.74 L487.03,382.93 L487.98,385.28 L488.93,387.81 L489.88,390.56 L490.83,393.55 L491.78,396.80 L492.73,400.34 L493.68,404.20 L494.63,408.40 L495.58,412.95 L496.53,417.79 L497.48,422.84 L498.43,428.03 L499.37,433.28 L500.32,438.51 L501.27,443.65 L502.22,448.61 L503.17,453.33 L504.12,457.71 L505.07,461.70 L506.02,465.20 L506.97,468.17 L507.92,470.63 L508.87,472.63 L509.82,474.23 L510.77,475.48 L511.72,476.43 L512.67,477.13 L513.61,477.63 L514.56,477.99 L515.51,478.25 L516.46,478.47 L517.41,478.70 L518.36,478.98 L519.31,479.31 L520.26,479.69 L521.21,480.11 L522.16,480.57 L523.11,481.05 L524.06,481.56 L525.01,482.08 L525.96,482.61 L526.91,483.15 L527.85,483.68 L528.80,484.20 L529.75,484.71 L530.70,485.20 L531.65,485.68 L532.60,486.14 L533.55,486.59 L534.50,487.03 L535.45,487.46 L536.40,487.89 L537.35,488.30 L538.30,488.71 L539.25,489.11 L540.20,489.50 L541.15,489.89 L542.09,490.28 L543.04,490.66 L543.99,491.04 L544.94,491.41 L545.89,491.79 L546.84,492.16 L547.79,492.53 L548.74,492.90 L549.69,493.27 L550.64,493.63 L551.59,494.00 L552.54,494.37 L553.49,494.73 L554.44,495.10 L555.39,495.46 L556.33,495.83 L557.28,496.19 L558.23,496.55 L559.18,496.91 L560.13,497.26 L561.08,497.61 L562.03,497.96 L562.98,498.30 L563.93,498.64 L564.88,498.97 L565.83,499.30 L566.78,499.63 L567.73,499.95 L568.68,500.27 L569.63,500.58 L570.57,500.89 L571.52,501.20 L572.47,501.50 L573.42,501.80 L574.37,502.10 L575.32,502.39 L576.27,502.69 L577.22,502.98 L578.17,503.27 L579.12,503.56 L580.07,503.84 L581.02,504.13 L581.97,504.42 L582.92,504.71 L583.87,505.01 L584.81,505.30 L585.76,505.60 L586.71,505.90 L587.66,506.21 L588.61,506.51 L589.56,506.82 L590.51,507.13 L591.46,507.44 L592.41,507.75 L593.36,508.06 L594.31,508.38 L595.26,508.69 L596.21,508.99 L597.16,509.30 L598.11,509.60 L599.05,509.91 L600.00,510.20 L600.95,510.50 L601.90,510.79 L602.85,511.08 L603.80,511.36 L604.75,511.64 L605.70,511.91 L606.65,512.18 L607.60,512.44 L608.55,512.70 L609.50,512.95 L610.45,513.20 L611.40,513.43 L612.35,513.67 L613.29,513.89 L614.24,514.11 L615.19,514.33 L616.14,514.53 L617.09,514.74 L618.04,514.93 L618.99,515.12 L619.94,515.30 L620.89,515.48 L621.84,515.64 L622.79,515.81 L623.74,515.97 L624.69,516.13 L625.64,516.28 L626.59,516.43 L627.53,516.59 L628.48,516.74 L629.43,516.89 L630.38,517.04 L631.33,517.20 L632.28,517.36 L633.23,517.52 L634.18,517.69 L635.13,517.85 L636.08,518.02 L637.03,518.19 L637.98,518.36 L638.93,518.53 L639.88,518.70 L640.83,518.87 L641.77,519.03 L642.72,519.20 L643.67,519.36 L644.62,519.53 L645.57,519.68 L646.52,519.84 L647.47,519.99 L648.42,520.14 L649.37,520.28 L650.32,520.42 L651.27,520.55 L652.22,520.67 L653.17,520.79 L654.12,520.90 L655.07,521.00 L656.01,521.10 L656.96,521.18 L657.91,521.25 L658.86,521.30 L659.81,521.35 L660.76,521.37 L661.71,521.38 L662.66,521.37 L663.61,521.33 L664.56,521.28 L665.51,521.20 L666.46,521.10 L667.41,520.97 L668.36,520.82 L669.31,520.66 L670.25,520.47 L671.20,520.28 L672.15,520.07 L673.10,519.85 L674.05,519.62 L675.00,519.38 L675.95,519.14 L676.90,518.90" fill="none" stroke="#0000ff" stroke-width="1.8" stroke-linejoin="round"/>
<circle cx="392.10" cy="317.30" r="4.70" fill="#0000ff"/><circle cx="390.60" cy="316.15" r="3.00" fill="url(#hl)"/>
<circle cx="403.49" cy="320.00" r="4.70" fill="#0000ff"/><circle cx="401.99" cy="318.85" r="3.00" fill="url(#hl)"/>
<circle cx="414.88" cy="323.00" r="4.70" fill="#0000ff"/><circle cx="413.38" cy="321.85" r="3.00" fill="url(#hl)"/>
<circle cx="426.28" cy="326.50" r="4.70" fill="#0000ff"/><circle cx="424.78" cy="325.35" r="3.00" fill="url(#hl)"/>
<circle cx="437.67" cy="331.00" r="4.70" fill="#0000ff"/><circle cx="436.17" cy="329.85" r="3.00" fill="url(#hl)"/>
<circle cx="449.06" cy="336.60" r="4.70" fill="#0000ff"/><circle cx="447.56" cy="335.45" r="3.00" fill="url(#hl)"/>
<circle cx="460.45" cy="344.90" r="4.70" fill="#0000ff"/><circle cx="458.95" cy="343.75" r="3.00" fill="url(#hl)"/>
<circle cx="471.84" cy="356.90" r="4.70" fill="#0000ff"/><circle cx="470.34" cy="355.75" r="3.00" fill="url(#hl)"/>
<circle cx="483.24" cy="374.90" r="4.70" fill="#0000ff"/><circle cx="481.74" cy="373.75" r="3.00" fill="url(#hl)"/>
<circle cx="494.63" cy="408.40" r="4.70" fill="#0000ff"/><circle cx="493.13" cy="407.25" r="3.00" fill="url(#hl)"/>
<circle cx="506.02" cy="465.20" r="4.70" fill="#0000ff"/><circle cx="504.52" cy="464.05" r="3.00" fill="url(#hl)"/>
<circle cx="517.41" cy="478.70" r="4.70" fill="#0000ff"/><circle cx="515.91" cy="477.55" r="3.00" fill="url(#hl)"/>
<circle cx="528.80" cy="484.20" r="4.70" fill="#0000ff"/><circle cx="527.30" cy="483.05" r="3.00" fill="url(#hl)"/>
<circle cx="540.20" cy="489.50" r="4.70" fill="#0000ff"/><circle cx="538.70" cy="488.35" r="3.00" fill="url(#hl)"/>
<circle cx="551.59" cy="494.00" r="4.70" fill="#0000ff"/><circle cx="550.09" cy="492.85" r="3.00" fill="url(#hl)"/>
<circle cx="562.98" cy="498.30" r="4.70" fill="#0000ff"/><circle cx="561.48" cy="497.15" r="3.00" fill="url(#hl)"/>
<circle cx="574.37" cy="502.10" r="4.70" fill="#0000ff"/><circle cx="572.87" cy="500.95" r="3.00" fill="url(#hl)"/>
<circle cx="585.76" cy="505.60" r="4.70" fill="#0000ff"/><circle cx="584.26" cy="504.45" r="3.00" fill="url(#hl)"/>
<circle cx="597.16" cy="509.30" r="4.70" fill="#0000ff"/><circle cx="595.66" cy="508.15" r="3.00" fill="url(#hl)"/>
<circle cx="608.55" cy="512.70" r="4.70" fill="#0000ff"/><circle cx="607.05" cy="511.55" r="3.00" fill="url(#hl)"/>
<circle cx="619.94" cy="515.30" r="4.70" fill="#0000ff"/><circle cx="618.44" cy="514.15" r="3.00" fill="url(#hl)"/>
<circle cx="631.33" cy="517.20" r="4.70" fill="#0000ff"/><circle cx="629.83" cy="516.05" r="3.00" fill="url(#hl)"/>
<circle cx="642.72" cy="519.20" r="4.70" fill="#0000ff"/><circle cx="641.22" cy="518.05" r="3.00" fill="url(#hl)"/>
<circle cx="654.12" cy="520.90" r="4.70" fill="#0000ff"/><circle cx="652.62" cy="519.75" r="3.00" fill="url(#hl)"/>
<circle cx="665.51" cy="521.20" r="4.70" fill="#0000ff"/><circle cx="664.01" cy="520.05" r="3.00" fill="url(#hl)"/>
<circle cx="676.90" cy="518.90" r="4.70" fill="#0000ff"/><circle cx="675.40" cy="517.75" r="3.00" fill="url(#hl)"/>
</g>
<rect x="392.10" y="302.60" width="284.80" height="228.70" fill="none" stroke="#000" stroke-width="1.7"/>
<text x="392.10" y="547.8" font-size="14" text-anchor="middle">-15</text>
<path d="M420.58,531.30 L420.58,528.80" stroke="#000" stroke-width="1.5"/>
<path d="M449.06,531.30 L449.06,526.80" stroke="#000" stroke-width="1.5"/>
<text x="449.06" y="547.8" font-size="14" text-anchor="middle">-10</text>
<path d="M477.54,531.30 L477.54,528.80" stroke="#000" stroke-width="1.5"/>
<path d="M506.02,531.30 L506.02,526.80" stroke="#000" stroke-width="1.5"/>
<text x="506.02" y="547.8" font-size="14" text-anchor="middle">-5</text>
<path d="M534.50,531.30 L534.50,528.80" stroke="#000" stroke-width="1.5"/>
<path d="M562.98,531.30 L562.98,526.80" stroke="#000" stroke-width="1.5"/>
<text x="562.98" y="547.8" font-size="14" text-anchor="middle">0</text>
<path d="M591.46,531.30 L591.46,528.80" stroke="#000" stroke-width="1.5"/>
<path d="M619.94,531.30 L619.94,526.80" stroke="#000" stroke-width="1.5"/>
<text x="619.94" y="547.8" font-size="14" text-anchor="middle">5</text>
<path d="M648.42,531.30 L648.42,528.80" stroke="#000" stroke-width="1.5"/>
<text x="676.90" y="547.8" font-size="14" text-anchor="middle">10</text>
<path d="M392.10,527.42 L394.60,527.42" stroke="#000" stroke-width="1.4"/>
<path d="M392.10,524.36 L394.60,524.36" stroke="#000" stroke-width="1.4"/>
<path d="M392.10,521.72 L394.60,521.72" stroke="#000" stroke-width="1.4"/>
<path d="M392.10,519.39 L394.60,519.39" stroke="#000" stroke-width="1.4"/>
<path d="M392.10,517.30 L396.60,517.30" stroke="#000" stroke-width="1.4"/>
<text x="387.3" y="522.10" font-size="14" text-anchor="end">10<tspan font-size="9.5" dy="-6.3">-11</tspan></text>
<path d="M392.10,503.57 L394.60,503.57" stroke="#000" stroke-width="1.4"/>
<path d="M392.10,495.54 L394.60,495.54" stroke="#000" stroke-width="1.4"/>
<path d="M392.10,489.85 L394.60,489.85" stroke="#000" stroke-width="1.4"/>
<path d="M392.10,485.43 L394.60,485.43" stroke="#000" stroke-width="1.4"/>
<path d="M392.10,481.82 L394.60,481.82" stroke="#000" stroke-width="1.4"/>
<path d="M392.10,478.76 L394.60,478.76" stroke="#000" stroke-width="1.4"/>
<path d="M392.10,476.12 L394.60,476.12" stroke="#000" stroke-width="1.4"/>
<path d="M392.10,473.79 L394.60,473.79" stroke="#000" stroke-width="1.4"/>
<path d="M392.10,471.70 L396.60,471.70" stroke="#000" stroke-width="1.4"/>
<text x="387.3" y="476.50" font-size="14" text-anchor="end">10<tspan font-size="9.5" dy="-6.3">-10</tspan></text>
<path d="M392.10,457.97 L394.60,457.97" stroke="#000" stroke-width="1.4"/>
<path d="M392.10,449.94 L394.60,449.94" stroke="#000" stroke-width="1.4"/>
<path d="M392.10,444.25 L394.60,444.25" stroke="#000" stroke-width="1.4"/>
<path d="M392.10,439.83 L394.60,439.83" stroke="#000" stroke-width="1.4"/>
<path d="M392.10,436.22 L394.60,436.22" stroke="#000" stroke-width="1.4"/>
<path d="M392.10,433.16 L394.60,433.16" stroke="#000" stroke-width="1.4"/>
<path d="M392.10,430.52 L394.60,430.52" stroke="#000" stroke-width="1.4"/>
<path d="M392.10,428.19 L394.60,428.19" stroke="#000" stroke-width="1.4"/>
<path d="M392.10,426.10 L396.60,426.10" stroke="#000" stroke-width="1.4"/>
<text x="387.3" y="430.90" font-size="14" text-anchor="end">10<tspan font-size="9.5" dy="-6.3">-9</tspan></text>
<path d="M392.10,412.37 L394.60,412.37" stroke="#000" stroke-width="1.4"/>
<path d="M392.10,404.34 L394.60,404.34" stroke="#000" stroke-width="1.4"/>
<path d="M392.10,398.65 L394.60,398.65" stroke="#000" stroke-width="1.4"/>
<path d="M392.10,394.23 L394.60,394.23" stroke="#000" stroke-width="1.4"/>
<path d="M392.10,390.62 L394.60,390.62" stroke="#000" stroke-width="1.4"/>
<path d="M392.10,387.56 L394.60,387.56" stroke="#000" stroke-width="1.4"/>
<path d="M392.10,384.92 L394.60,384.92" stroke="#000" stroke-width="1.4"/>
<path d="M392.10,382.59 L394.60,382.59" stroke="#000" stroke-width="1.4"/>
<path d="M392.10,380.50 L396.60,380.50" stroke="#000" stroke-width="1.4"/>
<text x="387.3" y="385.30" font-size="14" text-anchor="end">10<tspan font-size="9.5" dy="-6.3">-8</tspan></text>
<path d="M392.10,366.77 L394.60,366.77" stroke="#000" stroke-width="1.4"/>
<path d="M392.10,358.74 L394.60,358.74" stroke="#000" stroke-width="1.4"/>
<path d="M392.10,353.05 L394.60,353.05" stroke="#000" stroke-width="1.4"/>
<path d="M392.10,348.63 L394.60,348.63" stroke="#000" stroke-width="1.4"/>
<path d="M392.10,345.02 L394.60,345.02" stroke="#000" stroke-width="1.4"/>
<path d="M392.10,341.96 L394.60,341.96" stroke="#000" stroke-width="1.4"/>
<path d="M392.10,339.32 L394.60,339.32" stroke="#000" stroke-width="1.4"/>
<path d="M392.10,336.99 L394.60,336.99" stroke="#000" stroke-width="1.4"/>
<path d="M392.10,334.90 L396.60,334.90" stroke="#000" stroke-width="1.4"/>
<text x="387.3" y="339.70" font-size="14" text-anchor="end">10<tspan font-size="9.5" dy="-6.3">-7</tspan></text>
<path d="M392.10,321.17 L394.60,321.17" stroke="#000" stroke-width="1.4"/>
<path d="M392.10,313.14 L394.60,313.14" stroke="#000" stroke-width="1.4"/>
<path d="M392.10,307.45 L394.60,307.45" stroke="#000" stroke-width="1.4"/>
<text x="534.5" y="570.2" font-size="16.8" text-anchor="middle">Gate voltage, <tspan font-style="italic">V</tspan><tspan font-size="10.5" dy="4.4">g</tspan><tspan dy="-4.4"> [V]</tspan></text>
<text transform="translate(348.6,417.2) rotate(-90)" x="0" y="0" font-size="16.8" text-anchor="middle">Drain current, <tspan font-style="italic">I</tspan><tspan font-size="10.5" dy="4.4">d</tspan><tspan dy="-4.4"> [A]</tspan></text>
<text x="672.6" y="318.5" font-size="14" text-anchor="end"><tspan font-style="italic">N</tspan>-doped graphene barristor</text>
<path d="M575,332.4 L607.3,332.4" stroke="#0000ff" stroke-width="1.6"/><circle cx="591.20" cy="332.40" r="4.70" fill="#0000ff"/><circle cx="589.70" cy="331.25" r="3.00" fill="url(#hl)"/><text x="611.1" y="336.6" font-size="14">with CDL</text><path d="M575,349.0 L607.3,349.0" stroke="#000" stroke-width="1.6"/><circle cx="591.20" cy="349.00" r="4.70" fill="#000"/><circle cx="589.70" cy="347.85" r="3.00" fill="url(#hl)"/><text x="611.4" y="353.1" font-size="14">Pristine</text>
</svg></body></html>
